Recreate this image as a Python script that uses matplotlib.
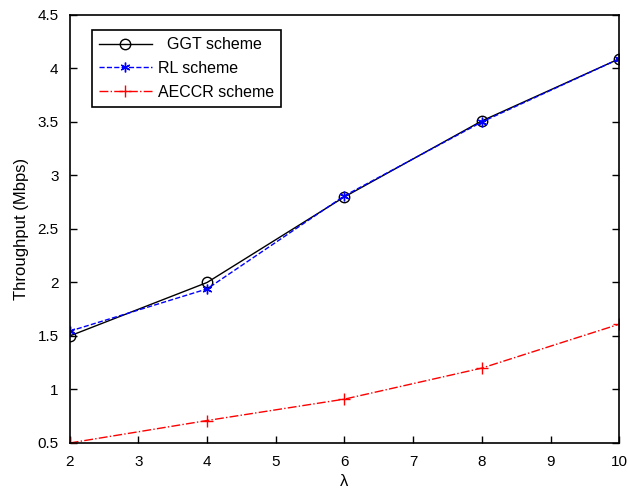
import numpy as np
import matplotlib
matplotlib.use('Agg')
import matplotlib.pyplot as plt

plt.rcParams['font.family'] = ['Liberation Sans', 'DejaVu Sans']

# Data
lam = [2, 4, 6, 8, 10]
ggt = [1.50, 2.00, 2.80, 3.51, 4.09]
rl = [1.545, 1.94, 2.81, 3.50, 4.09]
aeccr = [0.50, 0.71, 0.91, 1.20, 1.61]

fig = plt.figure(figsize=(6.28, 4.92), dpi=100)
ax = fig.add_axes([0.111, 0.0996, 0.875, 0.87])

ax.plot(lam, ggt, color='black', linestyle='-', linewidth=1,
        marker='o', markersize=7.5, markerfacecolor='none',
        markeredgecolor='black', label='  GGT scheme')
ax.plot(lam, rl, color='blue', linestyle='--', linewidth=1,
        marker=(6, 2, 0), markersize=7, markeredgewidth=1, label='RL scheme')
ax.plot(lam, aeccr, color='red', linestyle='-.', linewidth=1,
        marker='+', markersize=8, label='AECCR scheme')

ax.set_xlim(2, 10)
ax.set_ylim(0.5, 4.5)
ax.set_xticks(np.arange(2, 11, 1))
ax.set_yticks(np.arange(0.5, 4.6, 0.5))
ax.set_yticklabels(['0.5', '1', '1.5', '2', '2.5', '3', '3.5', '4', '4.5'])
ax.tick_params(direction='in', length=5, width=1, labelsize=11,
               top=False, right=True)
ax.tick_params(axis='x', pad=9)
ax.tick_params(axis='y', pad=8)
for s in ax.spines.values():
    s.set_linewidth(1.2)

ax.set_xlabel('λ', fontsize=12, labelpad=3)
ax.set_ylabel('Throughput (Mbps)', fontsize=12, labelpad=6)

leg = ax.legend(loc='upper left', bbox_to_anchor=(0.04, 0.965),
                borderaxespad=0, fontsize=11.5, fancybox=False,
                edgecolor='black', framealpha=1, handlelength=3.3,
                borderpad=0.45, labelspacing=0.55, handletextpad=0.4)
leg.get_frame().set_linewidth(1.2)

fig.savefig('out.png', dpi=100)
